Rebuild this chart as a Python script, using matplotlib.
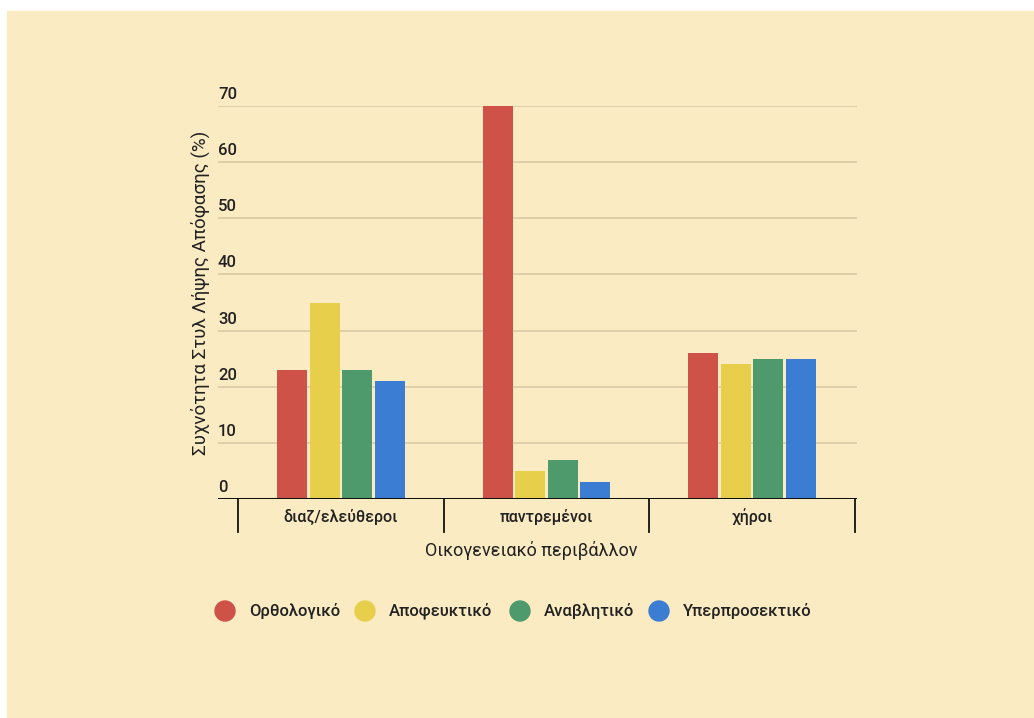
import matplotlib
matplotlib.use("Agg")
import matplotlib.pyplot as plt
import numpy as np

plt.rcParams['font.family'] = ['Roboto', 'DejaVu Sans']

categories = ["διαζ/ελεύθεροι", "παντρεμένοι", "χήροι"]
series_names = ["Ορθολογικό", "Αποφευκτικό", "Αναβλητικό", "Υπερπροσεκτικό"]
orthologiko = [23, 70, 26]
apofeuktiko = [35, 5, 24]
anavlitiko = [23, 7, 25]
yperprosektiko = [21, 3, 25]
yticks = [0, 10, 20, 30, 40, 50, 60, 70]

series = [orthologiko, apofeuktiko, anavlitiko, yperprosektiko]
colors = ["#CF5249", "#E8CF4B", "#4E9A6C", "#3B7DD3"]
bg = "#FBEBC3"
W, H = 1034, 718

fig = plt.figure(figsize=(W / 100, H / 100), dpi=100)
fig.patch.set_facecolor("white")
# pale card behind the chart
fig.patches.append(plt.Rectangle((7 / W, 0), 1 - 7 / W, 1 - 11 / H,
                                 transform=fig.transFigure, color=bg, zorder=-10))

x0, x1 = 218, 857
y0, y1 = 499, 106
ax = fig.add_axes([x0 / W, 1 - y0 / H, (x1 - x0) / W, (y0 - y1) / H])
ax.set_facecolor("none")

# category slots: boundaries at 238 and 855 px map to -0.5 and 2.5
slot = (855 - 238) / 3
ax.set_xlim(-0.5 - (238 - x0) / slot, 2.5 + (x1 - 855) / slot)
ax.set_ylim(0, 70)
px = 70 / (y0 - y1)  # data units per pixel

x = np.arange(len(categories))
bw = 30 / slot
step = 32.5 / slot
for i, (vals, c, name) in enumerate(zip(series, colors, series_names)):
    ax.bar(x + (i - 1.5) * step, vals, width=bw, color=c, label=name, zorder=3,
           edgecolor="none")

for t in yticks[1:]:
    ax.axhline(t, color="#D8CAA6", lw=1.2, zorder=1)
for t in yticks:
    ax.text(0.0, t + 4 * px, str(t), transform=ax.get_yaxis_transform(),
            ha="left", va="bottom", fontsize=12, fontweight="medium", color="#222222")

for s in ax.spines.values():
    s.set_visible(False)
ax.set_xticks([])
ax.set_yticks([])
ax.axhline(0, color="#111111", lw=2.2, zorder=4)

# category separators below the axis
for b in np.arange(-0.5, 3.0, 1.0):
    ax.plot([b, b], [0, -33 * px], color="#111111", lw=1.3, clip_on=False, zorder=4)
for xi, cat in zip(x, categories):
    ax.text(xi, -18 * px, cat, ha="center", va="center", fontsize=11.5,
            fontweight="medium", color="#222222")

fig.text(531 / W, 1 - 550 / H, "Οικογενειακό περιβάλλον", ha="center", va="center",
         fontsize=13, color="#222222")
fig.text(200 / W, 1 - 293 / H, "Συχνότητα Στυλ Λήψης Απόφασης (%)", ha="center",
         va="center", rotation=90, fontsize=13.5, color="#222222")

# legend
leg_x = [225, 365, 520, 659]
for lx, c, name in zip(leg_x, colors, series_names):
    fig.patches.append(matplotlib.patches.Ellipse((lx / W, 1 - 611 / H), 20 / W, 20 / H,
                                                  transform=fig.transFigure, color=c))
    fig.text((lx + 24) / W, 1 - 611 / H, name, ha="left", va="center",
             fontsize=12, fontweight="medium", color="#222222")

fig.savefig("out.png", dpi=100, facecolor=fig.get_facecolor())
